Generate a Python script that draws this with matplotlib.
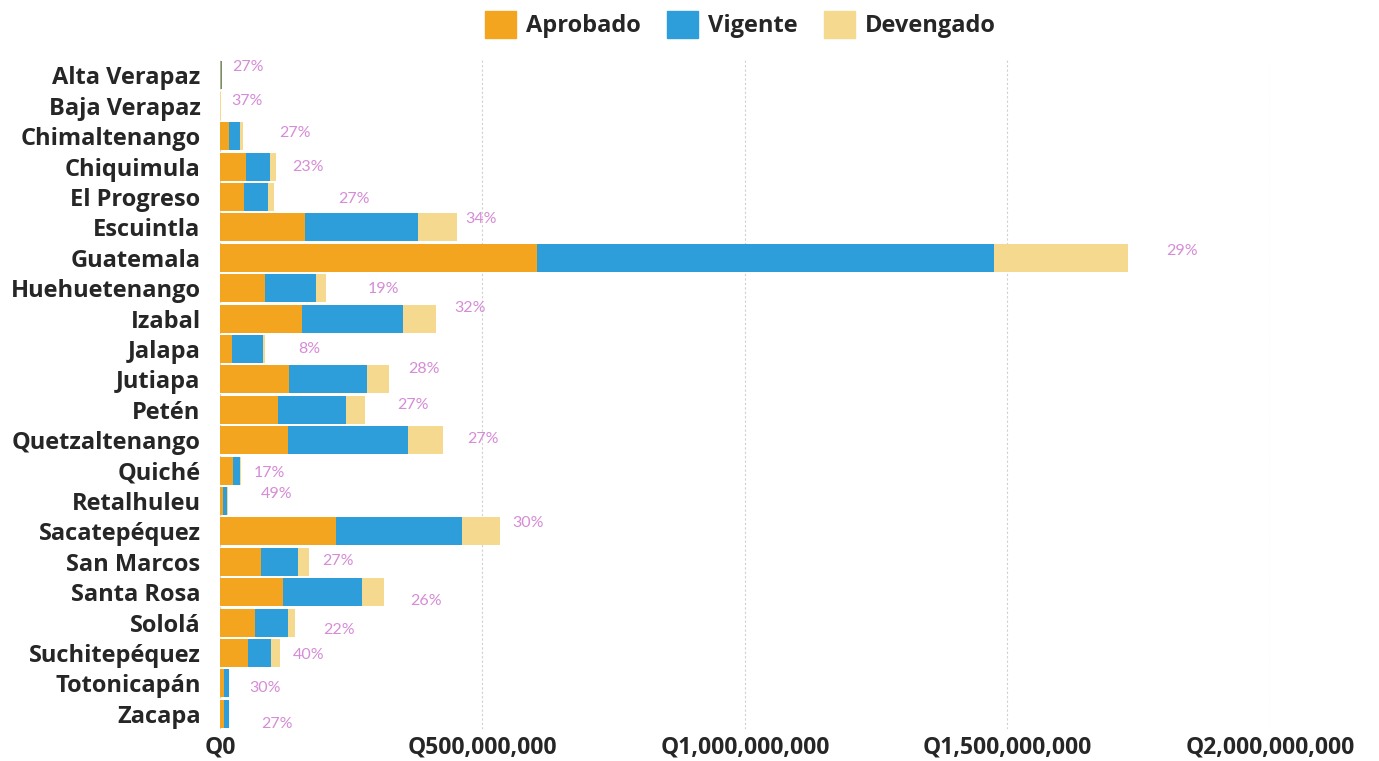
import matplotlib
matplotlib.use('Agg')
from matplotlib import pyplot as plt
from matplotlib.ticker import FuncFormatter
from matplotlib.patches import Patch

departamentos = ['Alta Verapaz', 'Baja Verapaz', 'Chimaltenango', 'Chiquimula', 'El Progreso',
                 'Escuintla', 'Guatemala', 'Huehuetenango', 'Izabal', 'Jalapa', 'Jutiapa',
                 'Petén', 'Quetzaltenango', 'Quiché', 'Retalhuleu', 'Sacatepéquez',
                 'San Marcos', 'Santa Rosa', 'Sololá', 'Suchitepéquez', 'Totonicapán', 'Zacapa']

# millones de quetzales
aprobado = [1.5, 0.5, 17, 50, 46, 162, 604, 86, 156, 23, 131, 110, 130, 25, 6, 221, 78, 120, 67, 53, 8, 8]
vigente = [1.5, 0.5, 21, 46, 46, 215, 871, 97, 192, 59, 149, 131, 229, 13, 8, 240, 70, 150, 63, 44, 9, 9]
devengado = [0.8, 0.3, 6, 11, 11, 74, 255, 19, 63, 4, 42, 36, 65, 2, 1, 72, 21, 42, 13, 17, 1, 1]
porcentaje = ['27%', '37%', '27%', '23%', '27%', '34%', '29%', '19%', '32%', '8%', '28%',
              '27%', '27%', '17%', '49%', '30%', '27%', '26%', '22%', '40%', '30%', '27%']
ticks = [0, 500, 1000, 1500, 2000]

# where the % labels sit relative to the bar end (pixels)
lab_dx = [10, 11, 36, 16, 64, 9, 38, 42, 19, 33, 19, 32, 25, 13, 33, 12, 14, 26, 28, 13, 20, 32]
lab_dy = [8, 5, 3, 0, -2, 8, 7, -1, 11, 0, 10, 5, 1, -2, 7, 8, 1, -9, -7, -2, -5, -10]

c_apr = '#F4A51F'
c_vig = '#2E9EDB'
c_dev = '#F4D98E'
c_pct = '#D68CD6'
c_txt = '#262626'

plt.rcParams['font.family'] = ['Open Sans', 'DejaVu Sans']

fig = plt.figure(figsize=(13.79, 7.61), dpi=100)
ax = fig.add_axes([0.1595, 0.042, 0.7614, 0.879])

y = list(range(len(departamentos)))
left2 = [a for a in aprobado]
left3 = [a + v for a, v in zip(aprobado, vigente)]
h = 0.92
ax.barh(y, aprobado, height=h, color=c_apr)
ax.barh(y, vigente, left=left2, height=h, color=c_vig)
ax.barh(y, devengado, left=left3, height=h, color=c_dev)

for i in y:
    total = aprobado[i] + vigente[i] + devengado[i]
    t = ax.annotate(porcentaje[i], (total, i), xytext=(lab_dx[i], lab_dy[i]),
                    textcoords='offset pixels', ha='left', va='center',
                    fontsize=11.5, color=c_pct, clip_on=False)
    t.set_fontfamily(['Lato', 'DejaVu Sans'])

ax.set_xlim(0, 2000)
ax.set_ylim(len(departamentos) - 0.5, -0.5)
ax.set_xticks(ticks)
ax.xaxis.set_major_formatter(FuncFormatter(lambda v, p: 'Q{:,.0f}'.format(v * 1e6)))
ax.set_yticks(y)
ax.set_yticklabels(departamentos)
ax.tick_params(axis='y', length=0, labelsize=17, labelcolor=c_txt, pad=14)
ax.tick_params(axis='x', length=0, labelsize=16.5, labelcolor=c_txt, pad=5)
for lab in ax.get_xticklabels() + ax.get_yticklabels():
    lab.set_fontweight('bold')

ax.grid(axis='x', color='#d0d0d0', linestyle=(0, (2, 2)), linewidth=0.8)
ax.set_axisbelow(True)
for s in ax.spines.values():
    s.set_visible(False)

handles = [Patch(color=c_apr, label='Aprobado'),
           Patch(color=c_vig, label='Vigente'),
           Patch(color=c_dev, label='Devengado')]
leg = fig.legend(handles=handles, loc='center', bbox_to_anchor=(0.537, 0.968), ncol=3,
                 frameon=False, handlelength=1.3, handleheight=1.4, handletextpad=0.45,
                 columnspacing=1.1, prop={'weight': 'bold', 'size': 17})
for t in leg.get_texts():
    t.set_color(c_txt)

fig.savefig('out.png', dpi=100, facecolor='white')
